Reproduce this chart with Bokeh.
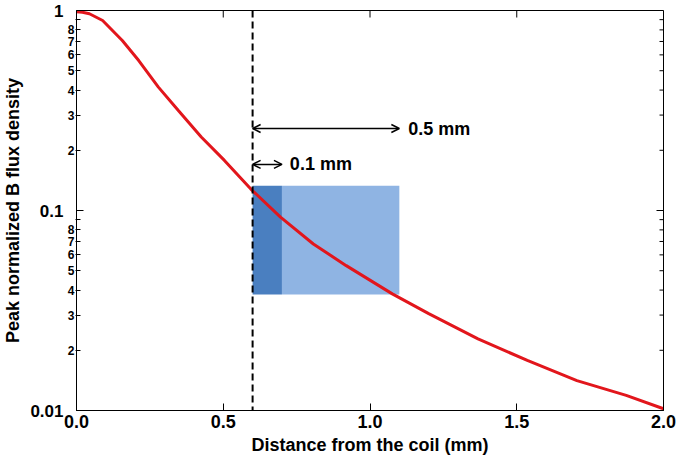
import math
from bokeh.plotting import figure
from bokeh.models import (Arrow, OpenHead, Span, Label, LogAxis, FixedTicker,
                          CustomJSTickFormatter, PrintfTickFormatter, Range1d)
from bokeh.embed import file_html
from bokeh.resources import INLINE

# ---- data ----
distance_mm = [0.0, 0.02, 0.044, 0.089, 0.156, 0.212, 0.279, 0.347, 0.425, 0.504, 0.594,
               0.695, 0.807, 0.919, 1.076, 1.2, 1.368, 1.536, 1.705, 1.873, 2.0]
b_norm = [0.985, 0.98, 0.963, 0.891, 0.708, 0.562, 0.414, 0.316, 0.233, 0.178, 0.128,
          0.0926, 0.068, 0.053, 0.0383, 0.0305, 0.0228, 0.0178, 0.0141, 0.0119, 0.0102]

x_ticks = [0.0, 0.5, 1.0, 1.5, 2.0]
y_major = [0.01, 0.1, 1.0]
y_major_labels = ["0.01", "0.1", "1"]
y_minor = [0.02, 0.03, 0.04, 0.05, 0.06, 0.07, 0.08, 0.09,
           0.2, 0.3, 0.4, 0.5, 0.6, 0.7, 0.8, 0.9]
y_minor_labels = ["2", "3", "4", "5", "6", "7", "8", "",
                  "2", "3", "4", "5", "6", "7", "8", ""]

coil_edge = 0.6
rect_left = [0.6, 0.7]
rect_right = [0.7, 1.1]
rect_bottom = [0.038, 0.038]
rect_top = [0.133, 0.133]
rect_colors = ["#4a7fc0", "#8fb4e3"]

arrow_05 = dict(x0=0.6, x1=1.1, y=0.257, text="0.5 mm", tx=1.13)
arrow_01 = dict(x0=0.6, x1=0.7, y=0.17, text="0.1 mm", tx=0.727)

X_MIN, X_MAX = 0.0, 2.0
Y_MIN, Y_MAX = 0.01, 1.0
FONT = "Liberation Sans"

LOOKUP = """
for (let i = 0; i < vals.length; i++) {
  if (Math.abs(vals[i] - tick) <= 1e-6 * vals[i]) { return labs[i]; }
}
return '';
"""

p = figure(frame_width=587, frame_height=400, y_axis_type="log",
           x_range=Range1d(X_MIN, X_MAX), y_range=Range1d(Y_MIN, Y_MAX),
           output_backend="svg", toolbar_location=None,
           min_border_left=69, min_border_right=13, min_border_top=10, min_border_bottom=49)
p.grid.visible = False
p.outline_line_color = "black"
p.outline_line_width = 1

p.quad(left=rect_left, right=rect_right, bottom=rect_bottom, top=rect_top,
       fill_color=rect_colors, line_color=None)
p.line(distance_mm, b_norm, line_color="#e2161c", line_width=3)

p.add_layout(Span(location=coil_edge, dimension="height", line_color="black",
                  line_width=2, line_dash="7 4"))

for a in (arrow_05, arrow_01):
    p.add_layout(Arrow(x_start=a["x0"], x_end=a["x1"], y_start=a["y"], y_end=a["y"],
                       start=OpenHead(size=8, line_width=1.5),
                       end=OpenHead(size=8, line_width=1.5),
                       line_width=1.5, line_color="black"))
    p.add_layout(Label(x=a["tx"], y=a["y"], text=a["text"], text_baseline="middle",
                       text_color="black",
                       text_font=FONT, text_font_style="bold", text_font_size="18px"))

# mirrored ticks on the right and top frame edges (screen-length rays)
p.ray(x=[X_MAX] * len(y_minor), y=y_minor, length=4, length_units="screen",
      angle=math.pi, line_color="black", line_width=1)
p.ray(x=[X_MAX] * len(y_major), y=y_major, length=7, length_units="screen",
      angle=math.pi, line_color="black", line_width=1)
p.ray(x=x_ticks, y=[Y_MAX] * len(x_ticks), length=7, length_units="screen",
      angle=-math.pi / 2, line_color="black", line_width=1)

# x axis
xa = p.xaxis[0]
xa.ticker = FixedTicker(ticks=x_ticks)
xa.formatter = PrintfTickFormatter(format="%.1f")
xa.axis_label = "Distance from the coil (mm)"
xa.major_label_text_font_size = "18px"
xa.major_label_standoff = 4
xa.axis_label_standoff = 4
xa.minor_tick_line_color = None
xa.major_tick_in = 7
xa.major_tick_out = 0

# inner y axis: minor digit labels (its major ticks sit at the minor values)
ya = p.yaxis[0]
ya.ticker = FixedTicker(ticks=y_minor, minor_ticks=y_major)
ya.formatter = CustomJSTickFormatter(args=dict(vals=y_minor, labs=y_minor_labels), code=LOOKUP)
ya.major_label_text_font_size = "12px"
ya.major_tick_in = 4
ya.major_tick_out = 1
ya.minor_tick_in = 7
ya.minor_tick_out = 0
ya.minor_tick_line_color = "black"
ya.major_label_standoff = 1

# outer y axis: decade labels and axis title
yb = LogAxis(ticker=FixedTicker(ticks=y_major),
             formatter=CustomJSTickFormatter(args=dict(vals=y_major, labs=y_major_labels),
                                             code=LOOKUP),
             major_label_text_font_size="17px", major_tick_in=0, major_tick_out=0,
             minor_tick_line_color=None, axis_line_color=None,
             major_label_standoff=1, axis_label="Peak normalized B flux density",
             axis_label_standoff=4)
p.add_layout(yb, "left")

for ax in (xa, ya, yb):
    ax.major_label_text_font = FONT
    ax.major_label_text_font_style = "bold"
    ax.major_label_text_color = "black"
    ax.axis_label_text_font = FONT
    ax.axis_label_text_font_style = "bold"
    ax.axis_label_text_color = "black"
    ax.axis_label_text_font_size = "18px"
for ax in (xa, ya):
    ax.axis_line_color = "black"
    ax.major_tick_line_color = "black"

open("out.html", "w").write(file_html(p, INLINE))
